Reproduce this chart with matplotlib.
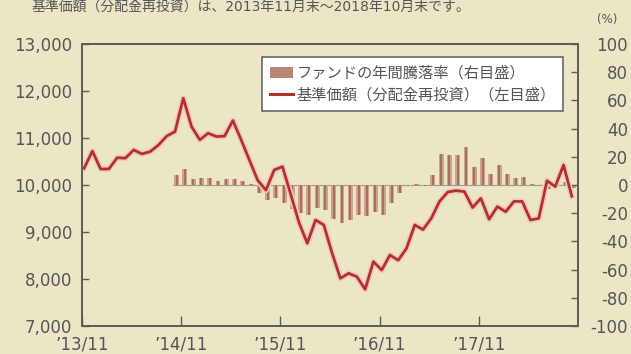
import matplotlib

matplotlib.use("Agg")
import matplotlib.pyplot as plt
import matplotlib.patheffects as pe
import numpy as np
from matplotlib.lines import Line2D
from matplotlib.patches import Patch

plt.rcParams["font.family"] = ["DejaVu Sans", "Noto Sans CJK JP"]
JP = "Noto Sans CJK JP"

# monthly NAV (dividends reinvested), 2013/11 .. 2018/10
nav = [
    10355, 10720, 10340, 10340, 10580, 10570, 10745, 10660, 10710, 10850,
    11040, 11135, 11845, 11240, 10960, 11100, 11030, 11040, 11370, 10960,
    10530, 10100, 9890, 10320, 10390, 9800, 9200, 8760, 9255, 9150,
    8550, 8015, 8120, 8050, 7780, 8370, 8190, 8510, 8400, 8650,
    9150, 9050, 9290, 9650, 9850, 9880, 9860, 9520, 9715, 9270,
    9540, 9430, 9650, 9650, 9255, 9290, 10090, 9965, 10425, 9760,
]

# trailing 12-month return (%), first available month index below
return_start = 11
annual_return = [
    7, 11, 4, 5, 5, 3, 4, 4, 3, 1,
    -6, -11, -9, -13, -17, -20, -21, -16, -18, -24,
    -27, -25, -21, -22, -19, -21, -13, -6, -1, 1,
    -1, 7, 22, 21, 21, 27, 13, 19, 8, 14,
    8, 5, 6, 0.5, -1, -3, 1, 2, -2,
]

tick_months = [0, 12, 24, 36, 48]
tick_labels = ["’13/11", "’14/11", "’15/11", "’16/11", "’17/11"]

left_ticks = list(range(7000, 13001, 1000))
right_ticks = list(range(-100, 101, 20))

legend_labels = ["ファンドの年間騰落率（右目盛）", "基準価額（分配金再投資）（左目盛）"]
title = "基準価額（分配金再投資）は、2013年11月末～2018年10月末です。"

BG = "#eae6c6"
LINE = "#b3312b"
BAR_OUT = "#cfa190"
BAR_IN = "#a9705f"
AXIS = "#5c5c5c"
TEXT = "#555555"

fig = plt.figure(figsize=(6.31, 3.54), dpi=100, facecolor=BG)
ax = fig.add_axes([0.130, 0.079, 0.786, 0.797])
axb = ax.twinx()
ax.set_zorder(axb.get_zorder() + 1)
ax.patch.set_visible(False)
axb.patch.set_facecolor("white")

x = np.arange(len(nav)) + 0.25
xr = np.arange(return_start, return_start + len(annual_return)) + 0.45

# bars: light body with a darker core for a rounded look
axb.bar(xr, annual_return, width=0.6, color=BAR_OUT, linewidth=0)
axb.bar(xr, annual_return, width=0.24, color=BAR_IN, linewidth=0)
axb.hlines(0, xr[0] - 0.5, xr[-1] + 0.5, color="#9a9a9a", lw=0.8, zorder=0.5)

ax.plot(
    x, nav, color=LINE, lw=2.0,
    path_effects=[pe.Stroke(linewidth=4.4, foreground="#f2c9c1"), pe.Normal()],
)

ax.set_xlim(0, 60)
ax.set_ylim(7000, 13000)
axb.set_ylim(-100, 100)

ax.set_xticks(tick_months)
ax.set_xticklabels(tick_labels)
ax.set_yticks(left_ticks)
ax.set_yticklabels([f"{v:,}" for v in left_ticks])
axb.set_yticks(right_ticks)
axb.set_yticklabels([str(v) for v in right_ticks])

for a in (ax, axb):
    a.tick_params(direction="in", color=AXIS, labelcolor=TEXT, labelsize=12, width=1)
    for s in a.spines.values():
        s.set_color(AXIS)
        s.set_linewidth(1.3)
ax.tick_params(axis="y", length=5, pad=7)
ax.tick_params(axis="x", length=7, pad=7)
# right-hand labels are right-aligned against the figure edge
axb.tick_params(axis="y", length=5, pad=36)
for lbl in axb.get_yticklabels():
    lbl.set_horizontalalignment("right")

handles = [
    Patch(facecolor="#bb8573", edgecolor="none"),
    Line2D([], [], color=LINE, lw=2.2),
]
leg = ax.legend(
    handles, legend_labels, loc="upper left", bbox_to_anchor=(0.363, 0.954),
    prop={"family": JP, "size": 11}, frameon=True, fancybox=False, framealpha=1,
    edgecolor=AXIS, facecolor="white", borderpad=0.5, handlelength=1.5,
    handleheight=0.75, handletextpad=0.25, labelspacing=0.3, borderaxespad=0,
)
leg.get_frame().set_linewidth(1.1)
for t in leg.get_texts():
    t.set_color(TEXT)

fig.text(0.398, 1.0, title, ha="center", va="top", fontsize=10, color=TEXT,
         family=["DejaVu Sans", JP])
fig.text(0.962, 1 - 20 / 354, "(%)", ha="center", va="center", fontsize=8.5, color=TEXT)

fig.savefig("out.png", dpi=100, facecolor=BG)
